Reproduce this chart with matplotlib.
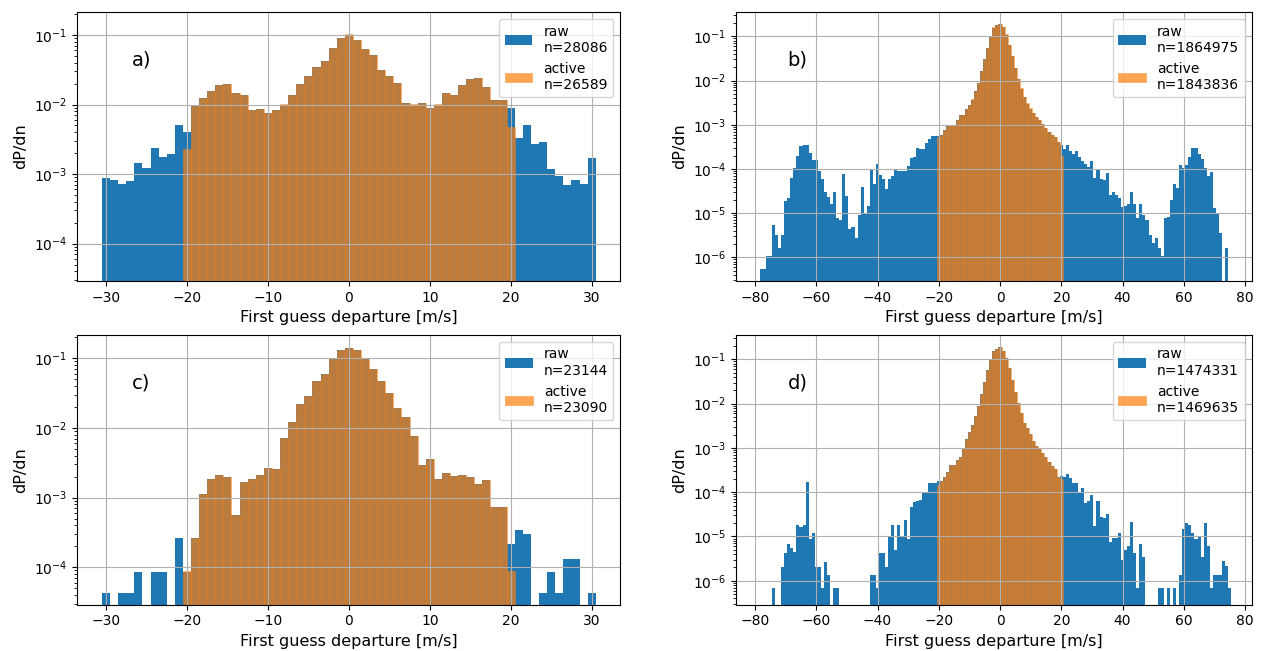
import numpy as np
import matplotlib
matplotlib.use("Agg")
import matplotlib.pyplot as plt

# ---- panel a: bins of 1 m/s, centres -30..30
RAW_A_START = -30
RAW_A = [8.75e-4, 8.2e-4, 7.3e-4, 7.9e-4, 1.44e-3, 1.23e-3, 2.37e-3, 1.76e-3, 1.94e-3, 5.07e-3,
         4.02e-3, 9.5e-3, 1.23e-2, 1.56e-2, 1.89e-2, 1.95e-2, 1.45e-2, 1.36e-2, 8.3e-3, 8.6e-3,
         7.5e-3, 8.3e-3, 1.0e-2, 1.36e-2, 1.95e-2, 2.54e-2, 3.43e-2, 4.18e-2, 6.43e-2, 8.95e-2,
         0.101, 8.5e-2, 6.2e-2, 5.1e-2, 3.13e-2, 2.54e-2, 2.02e-2, 1.04e-2, 1.0e-2, 1.04e-2,
         8.8e-3, 1.0e-2, 1.45e-2, 1.36e-2, 1.89e-2, 2.3e-2, 2.38e-2, 1.77e-2, 1.16e-2, 1.16e-2,
         8.9e-3, 3.3e-3, 5.0e-3, 2.7e-3, 2.88e-3, 1.18e-3, 9.5e-4, 6.95e-4, 8.1e-4, 7.3e-4,
         1.7e-3]
ACT_A_START = -20
ACT_A = [2.29e-3, 9.6e-3, 1.25e-2, 1.58e-2, 1.91e-2, 1.97e-2, 1.47e-2, 1.38e-2, 8.4e-3, 8.7e-3,
         7.6e-3, 8.4e-3, 1.01e-2, 1.38e-2, 1.97e-2, 2.57e-2, 3.47e-2, 4.22e-2, 6.5e-2, 9.05e-2,
         0.102, 8.6e-2, 6.3e-2, 5.15e-2, 3.16e-2, 2.57e-2, 2.04e-2, 1.05e-2, 1.01e-2, 1.05e-2,
         8.9e-3, 1.01e-2, 1.47e-2, 1.38e-2, 1.91e-2, 2.33e-2, 2.41e-2, 1.79e-2, 1.17e-2, 1.17e-2,
         4.8e-3]

# ---- panel c
RAW_C_START = -30
RAW_C = [4.32e-5, 0, 4.32e-5, 4.32e-5, 8.64e-5, 0, 8.64e-5, 8.64e-5, 0, 2.6e-4,
         8.64e-5, 2.6e-4, 1.12e-3, 1.84e-3, 2.1e-3, 1.96e-3, 5.6e-4, 1.66e-3, 1.84e-3, 2.1e-3,
         2.64e-3, 2.56e-3, 7.1e-3, 1.21e-2, 2.2e-2, 2.87e-2, 4.72e-2, 5.96e-2, 9.8e-2, 0.132,
         0.141, 0.132, 9.8e-2, 7.0e-2, 4.72e-2, 3.2e-2, 1.93e-2, 1.43e-2, 7.6e-3, 2.92e-3,
         3.56e-3, 1.84e-3, 2.24e-3, 2.03e-3, 2.1e-3, 1.96e-3, 1.56e-3, 1.77e-3, 7.3e-4, 7.3e-4,
         2.13e-4, 3.4e-4, 2.97e-4, 0, 4.32e-5, 8.64e-5, 4.32e-5, 1.3e-4, 1.3e-4, 0,
         4.32e-5]
ACT_C_START = -20
ACT_C = [8.7e-5, 2.6e-4, 1.12e-3, 1.84e-3, 2.1e-3, 1.96e-3, 5.6e-4, 1.66e-3, 1.84e-3, 2.1e-3,
         2.64e-3, 2.56e-3, 7.1e-3, 1.21e-2, 2.2e-2, 2.87e-2, 4.72e-2, 5.96e-2, 9.8e-2, 0.132,
         0.141, 0.132, 9.8e-2, 7.0e-2, 4.72e-2, 3.2e-2, 1.93e-2, 1.43e-2, 7.6e-3, 2.92e-3,
         3.6e-3, 1.84e-3, 2.24e-3, 2.03e-3, 2.1e-3, 1.96e-3, 1.56e-3, 1.77e-3, 7.3e-4, 7.3e-4,
         8.7e-5]

# ---- panel b: centres -78..74
RAW_B_START = -78
RAW_B = [5.4e-7, 5.4e-7, 1.07e-6, 1.07e-6, 5.4e-6, 3.2e-6, 1.65e-6, 3.2e-6, 1.86e-5, 2.23e-5,
         6.4e-5, 1.03e-4, 1.94e-4, 3.3e-4, 3.45e-4, 3.45e-4, 2.24e-4, 1.58e-4, 1.58e-4, 9.1e-5,
         5.9e-5, 2.95e-5, 2.35e-5, 1.58e-5, 3.0e-5, 7.9e-6, 6.9e-6, 7.6e-5, 2.45e-5, 4.36e-6,
         4.9e-6, 2.75e-6, 9.1e-6, 3.9e-5, 9.4e-6, 1.44e-5, 9.3e-5, 4.6e-5, 1.29e-4, 7.2e-5,
         5.9e-5, 3.55e-5, 5.9e-5, 6.9e-5, 9.3e-5, 9.2e-5, 9.0e-5, 9.0e-5, 1.15e-4, 1.73e-4,
         1.86e-4, 3.0e-4, 2.8e-4, 2.9e-4, 3.8e-4, 4.8e-4, 5.6e-4, 5.7e-4, 5.7e-4, 5.8e-4,
         7.6e-4, 9.3e-4, 1.0e-3, 1.0e-3, 1.29e-3, 1.62e-3, 1.65e-3, 2.24e-3, 2.8e-3, 3.7e-3,
         5.9e-3, 8.9e-3, 1.65e-2, 3.0e-2, 5.5e-2, 9.7e-2, 0.157, 0.18, 0.186, 0.16,
         0.109, 6.3e-2, 3.5e-2, 1.9e-2, 1.1e-2, 6.6e-3, 4.2e-3, 3.0e-3, 2.33e-3, 1.86e-3,
         1.51e-3, 1.29e-3, 1.03e-3, 8.5e-4, 6.8e-4, 5.8e-4, 5.3e-4, 4.1e-4, 3.5e-4, 2.9e-4,
         3.4e-4, 2.58e-4, 2.2e-4, 2.58e-4, 1.86e-4, 1.53e-4, 1.29e-4, 1.12e-4, 1.5e-4, 6.2e-5,
         1.0e-4, 5.9e-5, 5.6e-5, 7.9e-5, 2.56e-5, 2.95e-5, 2.56e-5, 2.23e-5, 1.35e-5, 1.44e-5,
         1.6e-5, 2.95e-5, 1.6e-5, 7.9e-6, 1.63e-5, 9.3e-6, 6.9e-6, 3.2e-6, 2.1e-6, 2.7e-6,
         1.6e-6, 1.07e-6, 7.9e-6, 8.2e-6, 1.94e-5, 4.5e-5, 3.7e-5, 1.26e-4, 1.06e-4, 1.26e-4,
         1.87e-4, 3.0e-4, 3.0e-4, 2.2e-4, 1.65e-4, 1.04e-4, 6.9e-5, 8.7e-5, 1.29e-5, 9.8e-6,
         3.6e-6, 0, 1.6e-6]
ACT_B_START = -20
ACT_B = [5.3e-4, 5.9e-4, 7.7e-4, 9.4e-4, 1.01e-3, 1.01e-3, 1.3e-3, 1.64e-3, 1.67e-3, 2.26e-3,
         2.83e-3, 3.74e-3, 5.95e-3, 9.0e-3, 1.67e-2, 3.03e-2, 5.56e-2, 9.8e-2, 0.159, 0.182,
         0.188, 0.162, 0.11, 6.37e-2, 3.54e-2, 1.92e-2, 1.11e-2, 6.67e-3, 4.25e-3, 3.03e-3,
         2.36e-3, 1.88e-3, 1.53e-3, 1.3e-3, 1.04e-3, 8.6e-4, 6.9e-4, 5.9e-4, 5.4e-4, 4.15e-4,
         1.95e-4]

# ---- panel d: centres -74..75
RAW_D_START = -74
RAW_D = [6.8e-7, 0, 0, 2.05e-6, 4.2e-6, 6.8e-6, 5.4e-6, 4.4e-6, 1.82e-5, 1.6e-5,
         1.82e-5, 1.7e-4, 8.9e-6, 1.2e-5, 2.05e-6, 2.05e-6, 6.8e-7, 2.7e-6, 1.35e-6, 0,
         6.8e-7, 6.8e-7, 0, 0, 0, 0, 0, 0, 0, 0,
         0, 0, 1.35e-6, 1.35e-6, 6.8e-7, 4.2e-6, 4.2e-6, 2.05e-6, 1.0e-5, 1.82e-5,
         4.9e-6, 1.82e-5, 1.0e-5, 2.34e-5, 8.7e-6, 4.6e-5, 6.0e-5, 6.3e-5, 6.7e-5, 9.8e-5,
         9.8e-5, 1.62e-4, 1.62e-4, 1.62e-4, 1.78e-4, 1.8e-4, 2.2e-4, 2.8e-4, 4.1e-4, 4.1e-4,
         5.4e-4, 6.3e-4, 1.0e-3, 1.55e-3, 2.3e-3, 3.3e-3, 5.2e-3, 8.9e-3, 1.65e-2, 3.1e-2,
         5.7e-2, 0.1, 0.154, 0.174, 0.19, 0.157, 0.109, 6.3e-2, 3.5e-2, 1.86e-2,
         1.05e-2, 6.3e-3, 3.6e-3, 2.75e-3, 2.04e-3, 1.41e-3, 1.1e-3, 9.3e-4, 7.6e-4, 6.3e-4,
         4.7e-4, 3.9e-4, 3.3e-4, 2.2e-4, 2.34e-4, 2.2e-4, 2.56e-4, 2.05e-4, 1.58e-4, 1.58e-4,
         9.8e-5, 1.23e-4, 5.7e-5, 6.4e-5, 8.7e-5, 1.74e-5, 6.3e-5, 2.75e-5, 2.57e-5, 3.2e-5,
         7.6e-6, 9.1e-6, 9.1e-6, 1.2e-5, 2.9e-6, 4.9e-6, 6.0e-6, 2.1e-5, 4.2e-6, 6.8e-7,
         6.8e-6, 3.4e-6, 0, 0, 0, 0, 6.8e-7, 6.8e-7, 0, 6.8e-7,
         0, 6.8e-7, 0, 1.35e-6, 1.5e-5, 2.04e-5, 1.8e-5, 1.17e-5, 8.9e-6, 9.9e-6,
         3.5e-6, 2.04e-5, 6.0e-6, 6.8e-7, 1.35e-6, 1.35e-6, 1.35e-6, 2.8e-6, 2.1e-6, 6.8e-7]
ACT_D_START = -20
ACT_D = [1.42e-4, 1.8e-4, 2.2e-4, 2.8e-4, 4.1e-4, 4.1e-4, 5.4e-4, 6.3e-4, 1.0e-3, 1.55e-3,
         2.3e-3, 3.3e-3, 5.2e-3, 8.9e-3, 1.65e-2, 3.1e-2, 5.7e-2, 0.1, 0.154, 0.174,
         0.19, 0.157, 0.109, 6.3e-2, 3.5e-2, 1.86e-2, 1.05e-2, 6.3e-3, 3.6e-3, 2.75e-3,
         2.04e-3, 1.41e-3, 1.1e-3, 9.3e-4, 7.6e-4, 6.3e-4, 4.7e-4, 3.9e-4, 3.3e-4, 2.2e-4,
         2.0e-4]

N_RAW = {"a": 28086, "b": 1864975, "c": 23144, "d": 1474331}
N_ACT = {"a": 26589, "b": 1843836, "c": 23090, "d": 1469635}

PANELS = {
    "a": (RAW_A_START, RAW_A, ACT_A_START, ACT_A),
    "b": (RAW_B_START, RAW_B, ACT_B_START, ACT_B),
    "c": (RAW_C_START, RAW_C, ACT_C_START, ACT_C),
    "d": (RAW_D_START, RAW_D, ACT_D_START, ACT_D),
}

W, H = 1261, 651
# axes boxes in pixels: left, top, right, bottom
BOXES = {
    "a": (77.3, 12, 620.4, 281),
    "b": (736.2, 12, 1251.6, 281),
    "c": (77.3, 335, 620.4, 604.7),
    "d": (736.2, 335, 1251.6, 604.7),
}
XLIM = {"a": (-33.55, 33.55), "c": (-33.55, 33.55), "b": (-86.15, 82.15), "d": (-86.15, 82.15)}
YLIM = {"a": (2.9e-5, 0.214), "c": (2.9e-5, 0.216), "b": (2.92e-7, 0.355), "d": (2.88e-7, 0.355)}


def hist_from_values(ax, start, vals, **kw):
    vals = np.asarray(vals, dtype=float)
    centres = start + np.arange(len(vals))
    edges = np.arange(len(vals) + 1) + start - 0.5
    ax.hist(centres, bins=edges, weights=vals, **kw)


fig = plt.figure(figsize=(W / 100, H / 100), dpi=100)
for key, (rs, raw, acs, act) in PANELS.items():
    l, t, r, b = BOXES[key]
    ax = fig.add_axes([l / W, 1 - b / H, (r - l) / W, (b - t) / H])
    hist_from_values(ax, rs, raw, log=True, color="#1f77b4", label=f"raw\nn={N_RAW[key]}")
    hist_from_values(ax, acs, act, log=True, color="#ff7f0e", alpha=0.7,
                     edgecolor="#ff7f0e", linewidth=0.4,
                     label=f"active\nn={N_ACT[key]}")
    ax.set_xlim(*XLIM[key])
    ax.set_ylim(*YLIM[key])
    ax.grid(True)
    ax.set_xlabel("First guess departure [m/s]", fontsize=11.5)
    ax.set_ylabel("dP/dn", fontsize=11.5)
    ax.text(0.1, 0.8, f"{key})", transform=ax.transAxes, fontsize=14)
    ax.legend(loc="upper right", fontsize=10)

fig.savefig("out.png", dpi=100)
